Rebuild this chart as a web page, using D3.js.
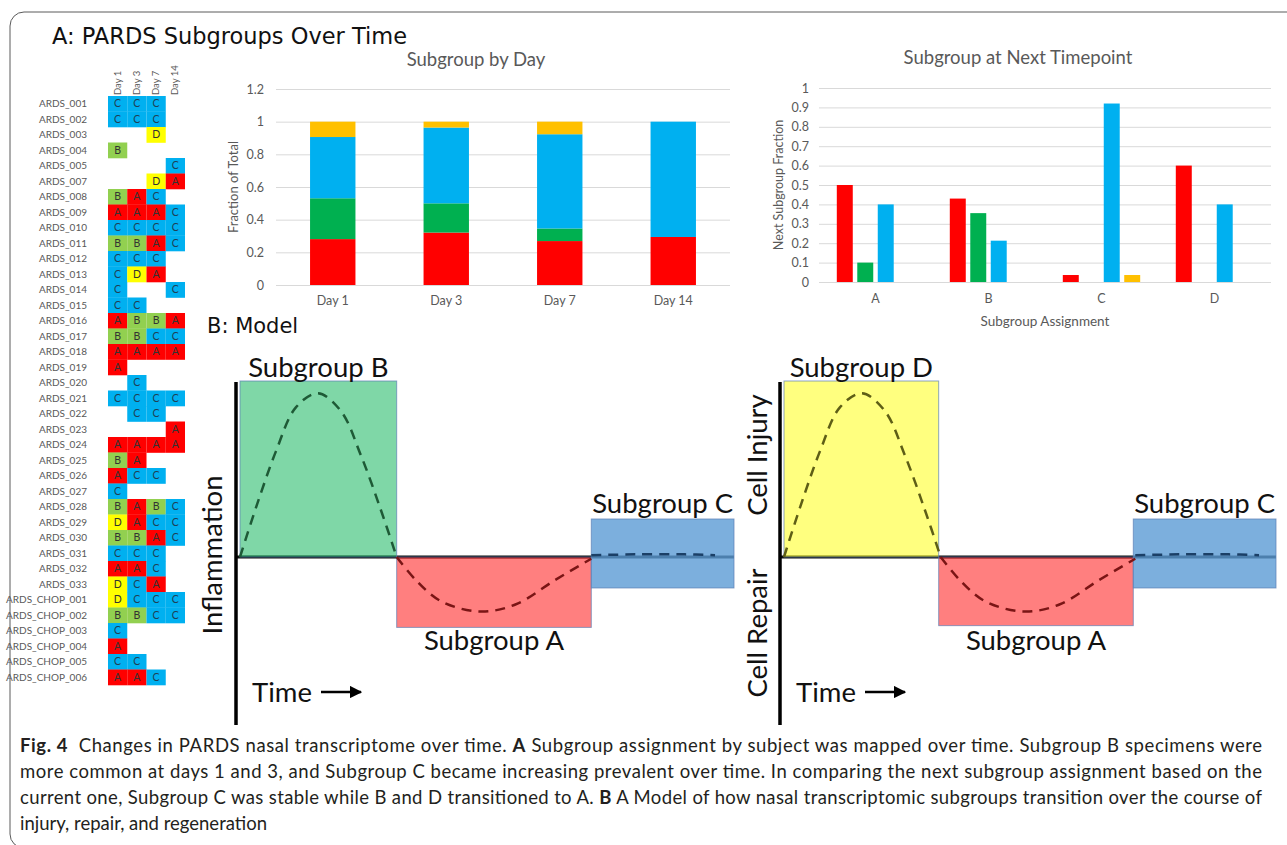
<!DOCTYPE html>
<html>
<head>
<meta charset="utf-8">
<script src="https://cdn.jsdelivr.net/npm/d3@7"></script>
<style>
  body { margin: 0; background: #fff; }
  svg { display: block; }
</style>
</head>
<body>
<svg id="fig" width="1287" height="845"></svg>
<script>
// ---- data ----
const subjects = ["ARDS_001","ARDS_002","ARDS_003","ARDS_004","ARDS_005","ARDS_007","ARDS_008","ARDS_009",
  "ARDS_010","ARDS_011","ARDS_012","ARDS_013","ARDS_014","ARDS_015","ARDS_016","ARDS_017","ARDS_018",
  "ARDS_019","ARDS_020","ARDS_021","ARDS_022","ARDS_023","ARDS_024","ARDS_025","ARDS_026","ARDS_027",
  "ARDS_028","ARDS_029","ARDS_030","ARDS_031","ARDS_032","ARDS_033","ARDS_CHOP_001","ARDS_CHOP_002",
  "ARDS_CHOP_003","ARDS_CHOP_004","ARDS_CHOP_005","ARDS_CHOP_006"];
const days = ["Day 1", "Day 3", "Day 7", "Day 14"];
// subgroup per subject and day ("" = no sample)
const assignments = [
  ["C","C","C",""], ["C","C","C",""], ["","","D",""], ["B","","",""], ["","","","C"],
  ["","","D","A"], ["B","A","C",""], ["A","A","A","C"], ["C","C","C","C"], ["B","B","A","C"],
  ["C","C","C",""], ["C","D","A",""], ["C","","","C"], ["C","C","",""], ["A","B","B","A"],
  ["B","B","C","C"], ["A","A","A","A"], ["A","","",""], ["","C","",""], ["C","C","C","C"],
  ["","C","C",""], ["","","","A"], ["A","A","A","A"], ["B","A","",""], ["A","C","C",""],
  ["C","","",""], ["B","A","B","C"], ["D","A","C","C"], ["B","B","A","C"], ["C","C","C",""],
  ["A","A","C",""], ["D","C","A",""], ["D","C","C","C"], ["B","B","C","C"], ["C","","",""],
  ["A","","",""], ["C","C","",""], ["A","A","C",""]
];
const groups = ["A", "B", "C", "D"];

// Subgroup by Day: fraction of total per day
const fracA = [0.281, 0.321, 0.269, 0.294];
const fracB = [0.250, 0.179, 0.077, 0.0];
const fracC = [0.375, 0.464, 0.577, 0.706];
const fracD = [0.094, 0.036, 0.077, 0.0];
const dayTicks = [0, 0.2, 0.4, 0.6, 0.8, 1, 1.2];

// Subgroup at Next Timepoint: next-subgroup fraction by current assignment
const nextA = [0.50, 0.43, 0.036, 0.60];
const nextB = [0.10, 0.355, 0.0, 0.0];
const nextC = [0.40, 0.213, 0.92, 0.40];
const nextD = [0.0, 0.0, 0.036, 0.0];
const nextTicks = [0, 0.1, 0.2, 0.3, 0.4, 0.5, 0.6, 0.7, 0.8, 0.9, 1];

// Model: phases (time 0-100, level -1..1)
const modelPanels = [
  {x0: 236, yLabels: [{text: "Inflammation", y: 555, x: 222}],
   phases: [{name: "Subgroup B", t0: 0.8, t1: 32.2, top: 1.0, bottom: 0, fill: "#00b050", op: 0.5},
            {name: "Subgroup A", t0: 32.2, t1: 71.2, top: 0, bottom: -0.4, fill: "#ff0000", op: 0.5},
            {name: "Subgroup C", t0: 71.2, t1: 99.8, top: 0.216, bottom: -0.176, fill: "#5b9bd5", op: 0.8}],
   peakColor: "#1e5a36"},
  {x0: 780, yLabels: [{text: "Cell Injury", y: 455, x: 767}, {text: "Cell Repair", y: 633, x: 767}],
   phases: [{name: "Subgroup D", t0: 0.8, t1: 31.8, top: 1.0, bottom: 0, fill: "#ffff00", op: 0.5},
            {name: "Subgroup A", t0: 31.8, t1: 70.8, top: 0, bottom: -0.39, fill: "#ff0000", op: 0.5},
            {name: "Subgroup C", t0: 70.8, t1: 99.4, top: 0.216, bottom: -0.176, fill: "#5b9bd5", op: 0.8}],
   peakColor: "#5e5e16"}
];
const humpT = [0.8, 4, 8, 12, 16.4, 21, 25, 29, 32.2];
const humpL = [0, 0.28, 0.6, 0.85, 0.93, 0.83, 0.58, 0.27, 0];
const troughT = [32.2, 36, 41, 48.8, 56, 64, 71.2];
const troughL = [0, -0.13, -0.25, -0.31, -0.27, -0.13, -0.01];
const flatT = [71.2, 80, 90, 96];
const flatL = [0.01, 0.015, 0.015, 0.01];

const heatColor = {A: "#ff0000", B: "#92d050", C: "#00b0f0", D: "#ffff00"};
const barColor = {A: "#ff0000", B: "#00b050", C: "#00b0f0", D: "#ffc000"};
const grey = "#595959";
const chartFont = "Lato, 'Open Sans', sans-serif";

const svg = d3.select("#fig");

// frame
svg.append("rect").attr("x", 10).attr("y", 12).attr("width", 1320).attr("height", 836)
  .attr("rx", 14).attr("fill", "none").attr("stroke", "#5a5a5a").attr("stroke-width", 1);

// panel titles
svg.append("text").attr("x", 52).attr("y", 44).attr("font-family", "'DejaVu Sans', sans-serif")
  .attr("font-size", 22.5).attr("fill", "#111").text("A: PARDS Subgroups Over Time");
svg.append("text").attr("x", 207).attr("y", 333).attr("font-family", "'DejaVu Sans', sans-serif")
  .attr("font-size", 21).attr("fill", "#111").text("B: Model");

// ---- heatmap ----
const hx = d3.scaleBand().domain(days).range([108, 185]);
const hy = d3.scaleBand().domain(subjects).range([96, 685]);
const heat = svg.append("g");
subjects.forEach((s, i) => {
  heat.append("text").attr("x", 87).attr("y", hy(s) + hy.bandwidth() / 2).attr("dy", "0.35em")
    .attr("text-anchor", "end").attr("font-family", chartFont).attr("font-size", 10)
    .attr("fill", grey).text(s);
  assignments[i].forEach((g, j) => {
    if (!g) return;
    heat.append("rect").attr("x", hx(days[j])).attr("y", hy(s))
      .attr("width", hx.bandwidth()).attr("height", hy.bandwidth() + 0.3).attr("fill", heatColor[g]);
    heat.append("text").attr("x", hx(days[j]) + hx.bandwidth() / 2).attr("y", hy(s) + hy.bandwidth() / 2)
      .attr("dy", "0.35em").attr("text-anchor", "middle").attr("font-family", chartFont)
      .attr("font-size", 10.5).attr("fill", g === "C" ? "#1f3f55" : "#333").text(g);
  });
});
days.forEach(d => {
  heat.append("text").attr("transform", `translate(${hx(d) + hx.bandwidth() / 2 + 3},95) rotate(-90)`)
    .attr("font-family", chartFont).attr("font-size", 9.5).attr("fill", grey).text(d);
});

// ---- Subgroup by Day (stacked) ----
const c1 = svg.append("g");
const x1 = d3.scaleBand().domain(days).range([276, 730]).paddingInner(0.6).paddingOuter(0.3);
const y1 = d3.scaleLinear().domain([0, 1.2]).range([285, 89]);
const dayRows = days.map((d, i) => ({day: d, A: fracA[i], B: fracB[i], C: fracC[i], D: fracD[i]}));
const stack1 = d3.stack().keys(groups)(dayRows);

c1.append("g").attr("transform", "translate(276,0)")
  .call(d3.axisLeft(y1).tickValues(dayTicks).tickSize(-454).tickFormat(d3.format("~g")))
  .call(g => g.select(".domain").remove())
  .call(g => g.selectAll(".tick line").attr("stroke", "#d9d9d9"))
  .call(g => g.selectAll(".tick text").attr("x", -12).attr("fill", grey)
    .attr("font-family", chartFont).attr("font-size", 12.5));

c1.selectAll("g.layer").data(stack1).join("g").attr("class", "layer")
  .attr("fill", d => barColor[d.key])
  .selectAll("rect").data(d => d).join("rect")
  .attr("x", d => x1(d.data.day)).attr("width", x1.bandwidth())
  .attr("y", d => y1(d[1])).attr("height", d => y1(d[0]) - y1(d[1]));

c1.append("g").attr("transform", "translate(0,285)")
  .call(d3.axisBottom(x1).tickSize(0).tickPadding(11))
  .call(g => g.select(".domain").remove())
  .call(g => g.selectAll(".tick text").attr("fill", grey).attr("font-family", chartFont).attr("font-size", 12.5));

c1.append("text").attr("x", 476).attr("y", 66).attr("text-anchor", "middle").attr("fill", grey)
  .attr("font-family", chartFont).attr("font-size", 18.5).text("Subgroup by Day");
c1.append("text").attr("transform", "translate(238,187) rotate(-90)").attr("text-anchor", "middle")
  .attr("fill", grey).attr("font-family", chartFont).attr("font-size", 13).text("Fraction of Total");

// ---- Subgroup at Next Timepoint (clustered) ----
const c2 = svg.append("g");
const x2 = d3.scaleBand().domain(groups).range([819, 1271]);
const x2in = d3.scaleBand().domain(groups).range([-38.7, 38.7]).paddingInner(0.22);
const y2 = d3.scaleLinear().domain([0, 1]).range([282, 88]);
const nextSeries = {A: nextA, B: nextB, C: nextC, D: nextD};

c2.append("g").attr("transform", "translate(819,0)")
  .call(d3.axisLeft(y2).tickValues(nextTicks).tickSize(-452).tickFormat(d3.format("~g")))
  .call(g => g.select(".domain").remove())
  .call(g => g.selectAll(".tick line").attr("stroke", "#d9d9d9"))
  .call(g => g.selectAll(".tick text").attr("x", -10).attr("fill", grey)
    .attr("font-family", chartFont).attr("font-size", 12.5));

groups.forEach((cur, i) => {
  const cx = x2(cur) + x2.bandwidth() / 2;
  groups.forEach(nx => {
    const v = nextSeries[nx][i];
    if (v <= 0) return;
    c2.append("rect").attr("x", cx + x2in(nx)).attr("width", x2in.bandwidth())
      .attr("y", y2(v)).attr("height", y2(0) - y2(v)).attr("fill", barColor[nx]);
  });
});

c2.append("g").attr("transform", "translate(0,282)")
  .call(d3.axisBottom(x2).tickSize(0).tickPadding(12))
  .call(g => g.select(".domain").remove())
  .call(g => g.selectAll(".tick text").attr("fill", grey).attr("font-family", chartFont).attr("font-size", 12.5));

c2.append("text").attr("x", 1018).attr("y", 64).attr("text-anchor", "middle").attr("fill", grey)
  .attr("font-family", chartFont).attr("font-size", 18.5).text("Subgroup at Next Timepoint");
c2.append("text").attr("transform", "translate(783,185) rotate(-90)").attr("text-anchor", "middle")
  .attr("fill", grey).attr("font-family", chartFont).attr("font-size", 12.5).text("Next Subgroup Fraction");
c2.append("text").attr("x", 1045).attr("y", 326).attr("text-anchor", "middle").attr("fill", grey)
  .attr("font-family", chartFont).attr("font-size", 13.5).text("Subgroup Assignment");

// ---- Model ----
const defs = svg.append("defs");
defs.append("marker").attr("id", "arrow").attr("viewBox", "0 0 10 10").attr("refX", 9).attr("refY", 5)
  .attr("markerWidth", 5).attr("markerHeight", 5).attr("orient", "auto").attr("markerUnits", "strokeWidth")
  .append("path").attr("d", "M0,0 L10,5 L0,10 z").attr("fill", "#000");

const level = d3.scaleLinear().domain([-1, 1]).range([557 + 176, 557 - 176]);
const modelFont = "Lato, 'Open Sans', sans-serif";

modelPanels.forEach(p => {
  const t = d3.scaleLinear().domain([0, 100]).range([p.x0, p.x0 + 499]);
  const g = svg.append("g");
  // baseline and vertical axis
  g.append("line").attr("x1", p.x0).attr("x2", t(p.phases[2].t1)).attr("y1", level(0)).attr("y2", level(0))
    .attr("stroke", "#111").attr("stroke-width", 3);
  g.append("line").attr("x1", p.x0).attr("x2", p.x0).attr("y1", 382).attr("y2", 725)
    .attr("stroke", "#000").attr("stroke-width", 3.5);
  // phase boxes
  p.phases.forEach(ph => {
    g.append("rect").attr("x", t(ph.t0)).attr("width", t(ph.t1) - t(ph.t0))
      .attr("y", level(ph.top)).attr("height", level(ph.bottom) - level(ph.top))
      .attr("fill", ph.fill).attr("fill-opacity", ph.op)
      .attr("stroke", "#5b7fb5").attr("stroke-opacity", 0.7).attr("stroke-width", 1);
  });
  // dashed trajectories
  const line = d3.line().x(d => t(d[0])).y(d => level(d[1])).curve(d3.curveCatmullRom);
  g.append("path").attr("d", line(humpT.map((v, i) => [v, humpL[i]])))
    .attr("fill", "none").attr("stroke", p.peakColor).attr("stroke-width", 2.5).attr("stroke-dasharray", "10,7");
  g.append("path").attr("d", line(troughT.map((v, i) => [v, troughL[i]])))
    .attr("fill", "none").attr("stroke", "#7a1515").attr("stroke-width", 2.5).attr("stroke-dasharray", "10,7");
  g.append("path").attr("d", line(flatT.map((v, i) => [v, flatL[i]])))
    .attr("fill", "none").attr("stroke", "#1b3f66").attr("stroke-width", 2.5).attr("stroke-dasharray", "10,7");
  // labels
  const [b, a, c] = p.phases;
  g.append("text").attr("x", (t(b.t0) + t(b.t1)) / 2).attr("y", 377).attr("text-anchor", "middle")
    .attr("font-family", modelFont).attr("font-size", 27.5).attr("fill", "#111").text(b.name);
  g.append("text").attr("x", (t(a.t0) + t(a.t1)) / 2).attr("y", 650).attr("text-anchor", "middle")
    .attr("font-family", modelFont).attr("font-size", 27.5).attr("fill", "#111").text(a.name);
  g.append("text").attr("x", (t(c.t0) + t(c.t1)) / 2).attr("y", 513).attr("text-anchor", "middle")
    .attr("font-family", modelFont).attr("font-size", 27.5).attr("fill", "#111").text(c.name);
  p.yLabels.forEach(l => {
    g.append("text").attr("transform", `translate(${l.x},${l.y}) rotate(-90)`).attr("text-anchor", "middle")
      .attr("font-family", modelFont).attr("font-size", 27.5).attr("fill", "#111").text(l.text);
  });
  g.append("text").attr("x", p.x0 + 16).attr("y", 702).attr("font-family", modelFont)
    .attr("font-size", 27.5).attr("fill", "#111").text("Time");
  g.append("line").attr("x1", p.x0 + 85).attr("x2", p.x0 + 125).attr("y1", 692).attr("y2", 692)
    .attr("stroke", "#000").attr("stroke-width", 2.5).attr("marker-end", "url(#arrow)");
});

// ---- caption ----
const capFont = "Lato, 'Open Sans', sans-serif";
const capLines = [
  [["Fig. 4", true], ["  Changes in PARDS nasal transcriptome over time. ", false], ["A", true],
   [" Subgroup assignment by subject was mapped over time. Subgroup B specimens were", false]],
  [["more common at days 1 and 3, and Subgroup C became increasing prevalent over time. In comparing the next subgroup assignment based on the", false]],
  [["current one, Subgroup C was stable while B and D transitioned to A. ", false], ["B", true],
   [" A Model of how nasal transcriptomic subgroups transition over the course of", false]],
  [["injury, repair, and regeneration", false]]
];
capLines.forEach((parts, i) => {
  const tx = svg.append("text").attr("x", 20).attr("y", 752 + i * 26).attr("font-family", capFont)
    .attr("font-size", 18.5).attr("fill", "#231f20").attr("xml:space", "preserve");
  if (i < 3) tx.attr("textLength", 1242).attr("lengthAdjust", "spacing");
  parts.forEach(([s, bold]) => tx.append("tspan").attr("font-weight", bold ? 700 : 400).text(s));
});
</script>
</body>
</html>
